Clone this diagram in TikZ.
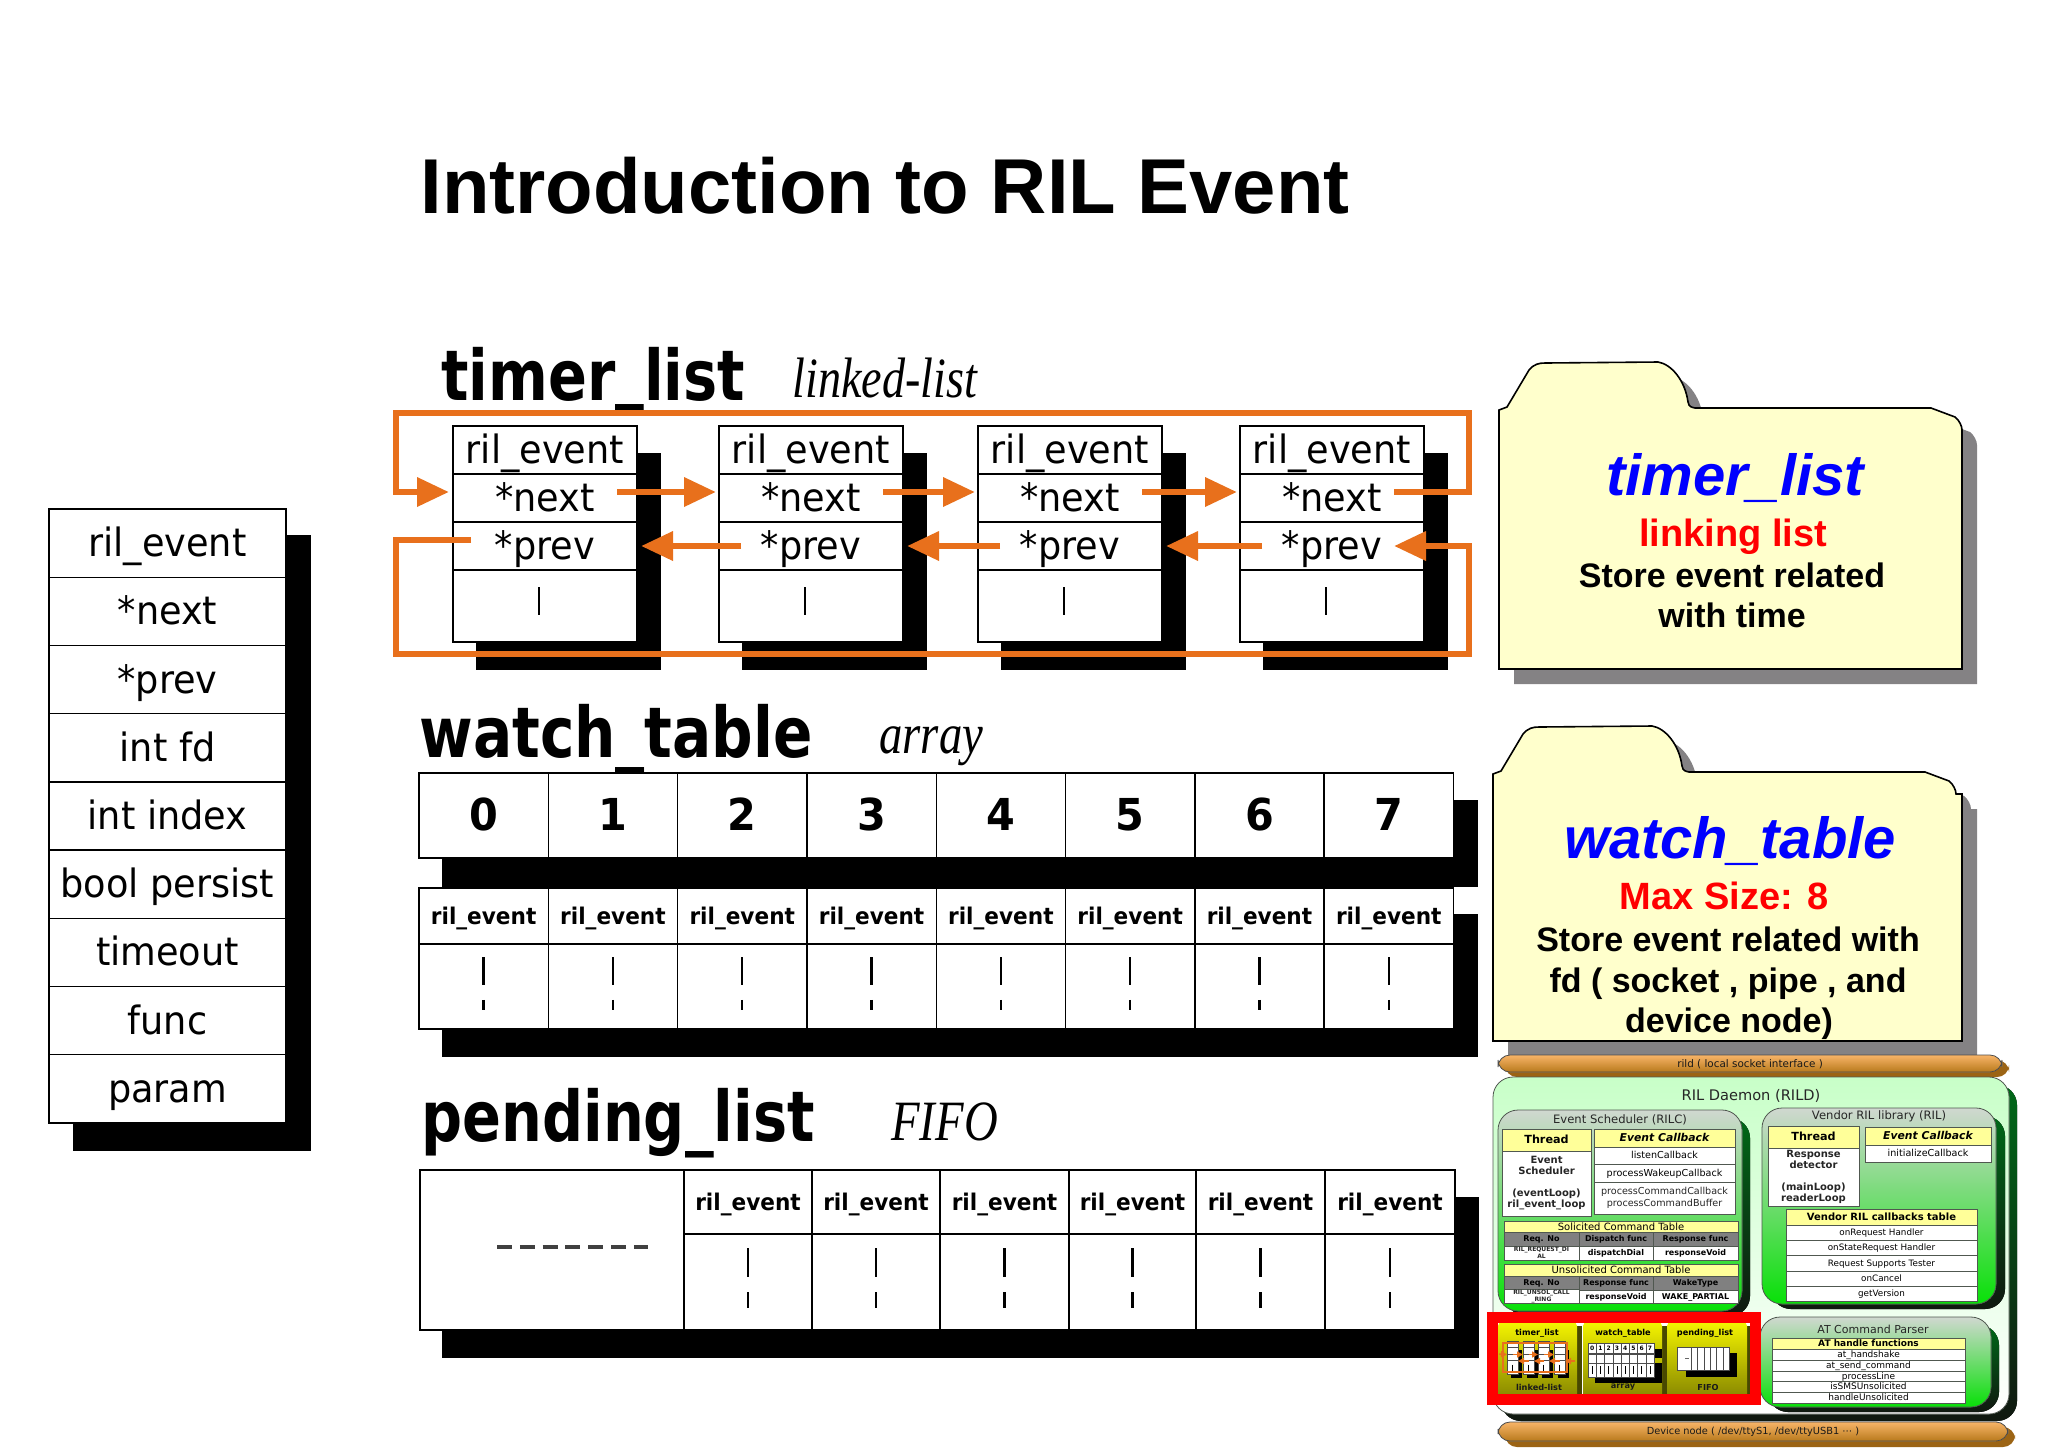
\documentclass[tikz,border=0pt]{standalone}
\usepackage{fontspec}
\setmainfont{Liberation Sans}
\setsansfont{DejaVu Sans}
\newfontfamily\cellfont[FakeStretch=0.94]{DejaVu Sans}
\newfontfamily\kindfont{Liberation Serif}
\usetikzlibrary{arrows.meta,positioning}

\definecolor{wireorange}{HTML}{E8701C}
\definecolor{folderfill}{HTML}{FFFFCC}
\definecolor{foldershade}{HTML}{848284}
\definecolor{headeryellow}{HTML}{FFFF99}
\definecolor{headergray}{HTML}{808080}
\definecolor{thinline}{HTML}{505850}
\definecolor{blocktop}{HTML}{D0D8D0}
\definecolor{blockmid}{HTML}{B0F4B0}
\definecolor{blockbottom}{HTML}{08E008}
\definecolor{shadowtop}{HTML}{006818}
\definecolor{shadowbottom}{HTML}{101810}
\definecolor{daemontop}{HTML}{C8FFC8}
\definecolor{bartop}{HTML}{F8B468}
\definecolor{barbottom}{HTML}{B87A1C}
\definecolor{barback}{HTML}{9C6414}
\definecolor{paneltop}{HTML}{F4F400}
\definecolor{panelbottom}{HTML}{8C8C00}
\definecolor{panelback}{HTML}{484800}

\tikzset{
    rilcell/.style={
           rectangle,
           draw=black, line width=.7pt,
           fill=white,
           inner sep=0pt, outer sep=0pt,
           text centered,
           },
    bigcell/.style={rilcell, font=\cellfont\fontsize{19.5}{19.5}\selectfont},
    digitcell/.style={rilcell, font=\cellfont\bfseries\fontsize{22}{22}\selectfont},
    eventcell/.style={rilcell, font=\cellfont\bfseries\fontsize{11.5}{11.5}\selectfont},
    heading/.style={anchor=base west, inner sep=0pt, font=\sffamily\bfseries\fontsize{35}{35}\selectfont},
    kindlabel/.style={anchor=base west, inner sep=0pt, font=\kindfont\itshape\fontsize{28.5}{28.5}\selectfont},
    foldertext/.style={anchor=base, inner sep=0pt, font=\bfseries\fontsize{#1}{#1}\selectfont},
    folderbody/.style={draw=black, line width=.8pt, fill=folderfill},
    linkarrow/.style={draw=wireorange, line width=3.3pt, -{Triangle[length=16pt,width=14pt]}},
    cellmark/.style={draw=black, line width=1.2pt},
    sized/.style={font=\sffamily\fontsize{#1}{#1}\selectfont},
    sizedbold/.style={font=\sffamily\bfseries\fontsize{#1}{#1}\selectfont},
    smallcell/.style={rilcell, draw=thinline, line width=.4pt},
    yellowcell/.style={smallcell, fill=headeryellow},
    graycell/.style={smallcell, fill=headergray},
    plainlabel/.style={inner sep=0pt, text=black!85},
    block/.style={draw=thinline, line width=.4pt, rounded corners=10pt,
           top color=blocktop, middle color=blockmid, bottom color=blockbottom},
    blockshadow/.style={rounded corners=10pt, top color=shadowtop, bottom color=shadowbottom},
    barfill/.style={draw=black!70, line width=.4pt, rounded corners=6pt, top color=bartop, bottom color=barbottom},
    barshadow/.style={rounded corners=6pt, fill=barback},
    minibox/.style={rilcell, draw=black!70, line width=.2pt},
    miniarrow/.style={draw=wireorange, line width=.7pt, -{Triangle[length=3pt,width=3pt]}},
}

% box given by its corners, text set on a common base line
\newcommand{\rilbox}[7][]{%
    \pgfmathsetmacro\boxw{(#5-#3)*.5}%
    \pgfmathsetmacro\boxh{(#6-#4)*.5}%
    \node[rilcell,minimum width=\boxw pt,minimum height=\boxh pt,#1] (#2) at ({(#3+#5)/2},{(#4+#6)/2})
        {\raisebox{0pt}[.70em][0pt]{#7}};%
}
\newcommand{\folderpath}{%
    (0,2) -- (8,-1) -- (30,-38) .. controls (35,-44) and (40,-45) .. (46,-45)
    -- (159,-46) .. controls (172,-44) and (186,-28) .. (189,-6)
    .. controls (190,-1) and (192,-1) .. (196,0) -- (432,0) -- (456,9)
    .. controls (460,12) and (463,18) .. (463,22)
}

\begin{document}
\begin{tikzpicture}[x=.5pt,y=-.5pt]
    \useasboundingbox (0,0) rectangle (2048,1447);

    \node[anchor=base west,inner sep=0pt,font=\bfseries\fontsize{38.9}{38.9}\selectfont] (title) at (420,213) {Introduction to RIL Event};

    % struct on the left
    \fill[black] (73,535) rectangle (311,1151);
    \foreach \n/\txt in {0/ril\_event,1/*next,2/*prev,3/int fd,4/int index,5/bool persist,6/timeout,7/func,8/param} {
        \pgfmathsetmacro\ya{509+\n*68.2}
        \pgfmathsetmacro\yb{\ya+68.2}
        \rilbox[bigcell]{field\n}{49}{\ya}{286}{\yb}{\txt}
    }

    % timer_list
    \node[heading] (timerhead) at (441,400) {\scalebox{.82}[1]{timer\raisebox{3pt}{\_}list}};
    \node[kindlabel] (timerkind) at (792,397) {\scalebox{.81}[1]{linked-list}};
    \foreach \n/\bx in {1/453,2/719,3/978,4/1240} {
        \pgfmathsetmacro\bxr{\bx+184}
        \fill[black] ({\bx+23},453) rectangle ({\bx+208},670);
        \rilbox[bigcell]{ril\n}{\bx}{426}{\bxr}{474}{ril\_event}
        \rilbox[bigcell]{next\n}{\bx}{474}{\bxr}{522}{*next}
        \rilbox[bigcell]{prev\n}{\bx}{522}{\bxr}{570}{*prev}
        \rilbox[bigcell]{rest\n}{\bx}{570}{\bxr}{642}{}
        \draw[cellmark] ([xshift=-3pt,yshift=9.5pt]rest\n.center) -- ([xshift=-3pt,yshift=-4.5pt]rest\n.center);
    }
    \coordinate (wireNE) at (1469,413);
    \coordinate (wireNW) at (396,413);
    \coordinate (wireSW) at (396,654);
    \coordinate (wireSE) at (1469,654);
    \foreach \a/\b in {1/2,2/3,3/4}
        \draw[linkarrow] ([xshift=-10pt,yshift=3pt]next\a.east) -- ([xshift=-1.5pt,yshift=3pt]next\b.west);
    \foreach \a/\b in {1/2,2/3,3/4}
        \draw[linkarrow] ([xshift=11pt]prev\b.west) -- ([xshift=2pt]prev\a.east);
    \draw[linkarrow] ([xshift=-15pt,yshift=3pt]next4.east) -| (wireNE) -- (wireNW) |- ([xshift=-2pt,yshift=3pt]next1.west);
    \draw[linkarrow] ([xshift=9pt,yshift=3pt]prev1.west) -| (wireSW) -- (wireSE) |- ([xshift=-15pt]prev4.east);

    % watch_table
    \node[heading] (watchhead) at (419,757) {\scalebox{.83}[1]{watch\_table}};
    \node[kindlabel] (watchkind) at (879,753) {\scalebox{.82}[1]{array}};
    \fill[black] (442,800) rectangle (1478,887);
    \fill[black] (442,914) rectangle (1478,1057);
    \foreach \n in {0,...,7} {
        \pgfmathsetmacro\xa{419+\n*129.3}
        \pgfmathsetmacro\xb{\xa+129.3}
        \rilbox[digitcell]{slot\n}{\xa}{773}{\xb}{858}{\n}
        \rilbox[eventcell]{watch\n}{\xa}{888}{\xb}{944}{ril\_event}
        \rilbox[eventcell]{watchrest\n}{\xa}{944}{\xb}{1029}{}
        \draw[cellmark] ([yshift=14.7pt]watchrest\n.center) -- ([yshift=.7pt]watchrest\n.center);
        \draw[cellmark] ([yshift=-6.7pt]watchrest\n.center) -- ([yshift=-11.7pt]watchrest\n.center);
    }

    % pending_list
    \node[heading] (pendinghead) at (421,1141) {\scalebox{.82}[1]{pending\_list}};
    \node[kindlabel] (pendingkind) at (891,1140) {\scalebox{.82}[1]{FIFO}};
    \fill[black] (442,1197) rectangle (1479,1358);
    \rilbox[rilcell]{blank}{420}{1170}{684}{1330}{}
    \draw[line width=2pt,draw=black!75,dash pattern=on 7.5pt off 3.9pt] (497,1247) -- (648,1247);
    \foreach \n/\xa/\xb in {1/684/812,2/812/940,3/940/1069,4/1069/1196,5/1196/1325,6/1325/1455} {
        \rilbox[eventcell]{pending\n}{\xa}{1170}{\xb}{1234}{ril\_event}
        \rilbox[eventcell]{pendingrest\n}{\xa}{1234}{\xb}{1330}{}
        \draw[cellmark] ([yshift=17pt]pendingrest\n.center) -- ([yshift=2.5pt]pendingrest\n.center);
        \draw[cellmark] ([yshift=-5pt]pendingrest\n.center) -- ([yshift=-13pt]pendingrest\n.center);
    }

    % folders
    \begin{scope}[shift={(1499,408)}]
        \fill[foldershade,shift={(15,15)}] \folderpath -- (463,261) -- (0,261) -- cycle;
        \path[folderbody] \folderpath -- (463,261) -- (0,261) -- cycle;
    \end{scope}
    \node[foldertext=29,text=blue] (timername) at (1735,495) {\itshape timer\_list};
    \node[foldertext=19,text=red] (timersize) at (1733,546) {linking list};
    \node[foldertext=17] (timerline1) at (1732,587) {Store event related};
    \node[foldertext=17] (timerline2) at (1732,627) {with time};

    \begin{scope}[shift={(1493,772)}]
        \fill[foldershade,shift={(15,15)}] \folderpath -- (469,22) -- (469,269) -- (0,269) -- cycle;
        \path[folderbody] \folderpath -- (469,22) -- (469,269) -- (0,269) -- cycle;
    \end{scope}
    \node[foldertext=29,text=blue] (watchname) at (1730,858) {\itshape watch\_table};
    \node[foldertext=19,text=red] (watchsize) at (1724,909) {Max Size: 8};
    \node[foldertext=17] (watchline1) at (1728,951) {Store event related with};
    \node[foldertext=17] (watchline2) at (1728,992) {fd ( socket , pipe , and};
    \node[foldertext=17] (watchline3) at (1729,1032) {device node)};

    % RIL daemon thumbnail
    \fill[barshadow] (1505,1060) rectangle (2009,1077);
    \rilbox[barfill,sized=5.2,text=black!90]{rildbar}{1498}{1055}{2002}{1072}{rild ( local socket interface )}
    \fill[blockshadow] (1501,1085) rectangle (2017,1421);
    \rilbox[rounded corners=10pt,draw=thinline,line width=.4pt,top color=daemontop,bottom color=white]{daemon}{1493}{1077}{2009}{1414}{}
    \node[plainlabel,sized=7.3] (daemontitle) at (1751,1096) {RIL Daemon (RILD)};

    % event scheduler
    \fill[blockshadow] (1506,1118) rectangle (1750,1316);
    \rilbox[block]{scheduler}{1498}{1110}{1742}{1311}{}
    \node[plainlabel,sized=5.8] (schedtitle) at (1620,1120) {Event Scheduler (RILC)};
    \rilbox[yellowcell,sizedbold=5.6]{thread}{1502}{1129}{1591}{1151}{Thread}
    \rilbox[smallcell]{threadbody}{1502}{1151}{1591}{1216}{}
    \node[plainlabel,font=\sffamily\bfseries\fontsize{5}{5.5}\selectfont,align=center] (threadtext) at (threadbody)
        {Event\\Scheduler\\[5.5pt](eventLoop)\\ril\_event\_loop};
    \rilbox[yellowcell,font=\sffamily\bfseries\itshape\fontsize{5.4}{5.4}\selectfont]{schedcb}{1594}{1129}{1735}{1147}{Event Callback}
    \rilbox[smallcell,sized=4.8]{schedcb1}{1594}{1147}{1735}{1164}{listenCallback}
    \rilbox[smallcell,sized=4.8]{schedcb2}{1594}{1164}{1735}{1182}{processWakeupCallback}
    \rilbox[smallcell]{schedcb3}{1594}{1182}{1735}{1214}{}
    \node[plainlabel,font=\sffamily\fontsize{4.8}{5.7}\selectfont,align=center] (schedcb3text) at (schedcb3)
        {processCommandCallback\\processCommandBuffer};

    % command tables
    \rilbox[yellowcell,sized=5]{soltable}{1504}{1221}{1738}{1232}{Solicited Command Table}
    \rilbox[graycell,sizedbold=4]{solhead1}{1504}{1232}{1579}{1246}{Req. No}
    \rilbox[graycell,sizedbold=4]{solhead2}{1579}{1232}{1653}{1246}{Dispatch func}
    \rilbox[graycell,sizedbold=4]{solhead3}{1653}{1232}{1738}{1246}{Response func}
    \rilbox[smallcell]{solcell1}{1504}{1246}{1579}{1260}{}
    \node[plainlabel,font=\sffamily\bfseries\fontsize{3}{3.6}\selectfont,align=center] (solreq) at (solcell1) {RIL\_REQUEST\_DI\\AL};
    \rilbox[smallcell,sizedbold=4]{solcell2}{1579}{1246}{1653}{1260}{dispatchDial}
    \rilbox[smallcell,sizedbold=4]{solcell3}{1653}{1246}{1738}{1260}{responseVoid}
    \rilbox[yellowcell,sized=5]{unstable}{1504}{1264}{1738}{1276}{Unsolicited Command Table}
    \rilbox[graycell,sizedbold=4]{unshead1}{1504}{1276}{1579}{1290}{Req. No}
    \rilbox[graycell,sizedbold=4]{unshead2}{1579}{1276}{1653}{1290}{Response func}
    \rilbox[graycell,sizedbold=4]{unshead3}{1653}{1276}{1738}{1290}{WakeType}
    \rilbox[smallcell]{uncell1}{1504}{1290}{1579}{1303}{}
    \node[plainlabel,font=\sffamily\bfseries\fontsize{3}{3.6}\selectfont,align=center] (unsreq) at (uncell1) {RIL\_UNSOL\_CALL\\\_RING};
    \rilbox[smallcell,sizedbold=4]{uncell2}{1579}{1290}{1653}{1303}{responseVoid}
    \rilbox[smallcell,sizedbold=4]{uncell3}{1653}{1290}{1738}{1303}{WAKE\_PARTIAL}

    % vendor library
    \fill[blockshadow] (1771,1116) rectangle (2005,1309);
    \rilbox[block]{vendor}{1762}{1108}{1996}{1304}{}
    \node[plainlabel,sized=5.8] (vendortitle) at (1879,1116) {Vendor RIL library (RIL)};
    \rilbox[yellowcell,sizedbold=5.6]{vthread}{1768}{1126}{1859}{1148}{Thread}
    \rilbox[smallcell]{vthreadbody}{1768}{1148}{1859}{1206}{}
    \node[plainlabel,font=\sffamily\bfseries\fontsize{5}{5.5}\selectfont,align=center] (vthreadtext) at (vthreadbody)
        {Response\\detector\\[5.5pt](mainLoop)\\readerLoop};
    \rilbox[yellowcell,font=\sffamily\bfseries\itshape\fontsize{5.4}{5.4}\selectfont]{vendorcb}{1865}{1127}{1991}{1145}{Event Callback}
    \rilbox[smallcell,sized=4.8]{vendorcb1}{1865}{1145}{1991}{1162}{initializeCallback}
    \rilbox[yellowcell,sizedbold=5]{vtable}{1786}{1209}{1977}{1225}{Vendor RIL callbacks table}
    \foreach \n/\ya/\yb/\txt in {1/1225/1240/onRequest Handler,2/1240/1255/onStateRequest Handler,3/1255/1271/Request Supports Tester,4/1271/1286/onCancel,5/1286/1301/getVersion}
        \rilbox[smallcell,sized=4.4]{vrow\n}{1786}{\ya}{1977}{\yb}{\txt};

    % AT parser
    \fill[blockshadow] (1768,1325) rectangle (1999,1412);
    \rilbox[block]{atparser}{1760}{1317}{1991}{1407}{}
    \node[plainlabel,sized=5.5] (attitle) at (1873,1329) {AT Command Parser};
    \rilbox[yellowcell,sizedbold=4.5]{attable}{1772}{1338}{1965}{1349}{AT handle functions}
    \foreach \n/\ya/\yb/\txt in {1/1349/1360/at\_handshake,2/1360/1371/at\_send\_command,3/1371/1381/processLine,4/1381/1392/isSMSUnsolicited,5/1392/1403/handleUnsolicited}
        \rilbox[smallcell,sized=4.5]{atrow\n}{1772}{\ya}{1965}{\yb}{\txt};

    % red frame with the three small panels
    \fill[white] (1487,1312) rectangle (1761,1405);
    \foreach \n/\xa/\xb in {1/1498/1577,2/1583/1662,3/1667/1747} {
        \fill[panelback] ({\xa+5},1326) rectangle ({\xb+5},1394);
        \shade[top color=paneltop,bottom color=panelbottom]
            (\xa,1394) {[rounded corners=2pt] -- (\xa,1322) -- (\xb,1322)} -- (\xb,1394) -- cycle;
    }
    \node[inner sep=0pt,sizedbold=4.1] (minitimer) at (1537,1333) {timer\_list};
    \node[inner sep=0pt,sizedbold=4.1] (miniwatch) at (1623,1333) {watch\_table};
    \node[inner sep=0pt,sizedbold=4.1] (minipending) at (1705,1333) {pending\_list};
    \node[inner sep=0pt,sizedbold=4.1,text=black!90] (minikind1) at (1539,1387) {linked-list};
    \node[inner sep=0pt,sizedbold=4.1,text=black!90] (minikind2) at (1623,1387) {array};
    \node[inner sep=0pt,sizedbold=4.1,text=black!90] (minikind3) at (1708,1387) {FIFO};

    % small timer_list
    \foreach \n/\xa in {1/1507,2/1523,3/1538,4/1554} {
        \pgfmathsetmacro\xb{\xa+11}
        \fill[black] ({\xa+4},1350) rectangle ({\xb+4},1378);
        \rilbox[minibox]{mini\n a}{\xa}{1345}{\xb}{1351}{}
        \rilbox[minibox]{mini\n b}{\xa}{1351}{\xb}{1358}{}
        \rilbox[minibox]{mini\n c}{\xa}{1358}{\xb}{1364}{}
        \rilbox[minibox]{mini\n d}{\xa}{1364}{\xb}{1371}{}
        \draw[black,line width=.4pt] ([yshift=1.5pt]mini\n d.center) -- ([yshift=-1.5pt]mini\n d.center);
    }
    \draw[wireorange,line width=.6pt] (1503,1343) rectangle (1567,1372);
    \foreach \a/\b in {1/2,2/3,3/4} {
        \draw[miniarrow] (mini\a b.center) -- (mini\b b.west);
        \draw[miniarrow] (mini\b c.center) -- (mini\a c.east);
    }
    \coordinate (miniin) at (1499,1354);
    \coordinate (miniout) at (1575,1361);
    \draw[miniarrow] (miniin) -- (mini1b.west);
    \draw[miniarrow] (miniout) -- (mini4c.east);

    % small watch_table
    \fill[black] (1595,1349) rectangle (1662,1358);
    \fill[black] (1595,1363) rectangle (1662,1383);
    \foreach \n in {0,...,7} {
        \pgfmathsetmacro\xa{1588+\n*8.25}
        \pgfmathsetmacro\xb{\xa+8.25}
        \rilbox[minibox,sizedbold=3]{minislot\n}{\xa}{1343}{\xb}{1353}{\n}
        \rilbox[minibox]{miniev\n}{\xa}{1358}{\xb}{1365}{}
        \rilbox[minibox]{minirest\n}{\xa}{1365}{\xb}{1375}{}
        \draw[black,line width=.4pt] ([yshift=2pt]minirest\n.center) -- ([yshift=-2pt]minirest\n.center);
    }

    % small pending_list
    \fill[black] (1686,1353) rectangle (1737,1377);
    \rilbox[minibox]{miniblank}{1677}{1347}{1691}{1370}{}
    \draw[black!60,line width=.4pt] (1685,1358) -- (1689,1358);
    \foreach \n in {0,...,5} {
        \pgfmathsetmacro\xa{1691+\n*6.4}
        \pgfmathsetmacro\xb{\xa+6.4}
        \rilbox[minibox]{minififo\n}{\xa}{1347}{\xb}{1370}{}
    }
    \draw[red,line width=5.5pt] (1492.5,1317) rectangle (1755,1399.5);

    % device node
    \fill[barshadow] (1505,1427) rectangle (2015,1447);
    \rilbox[barfill,sized=4.9,text=black!90]{devicebar}{1498}{1422}{2008}{1441}{Device node ( /dev/ttyS1, /dev/ttyUSB1 ⋯ )}
\end{tikzpicture}
\end{document}
